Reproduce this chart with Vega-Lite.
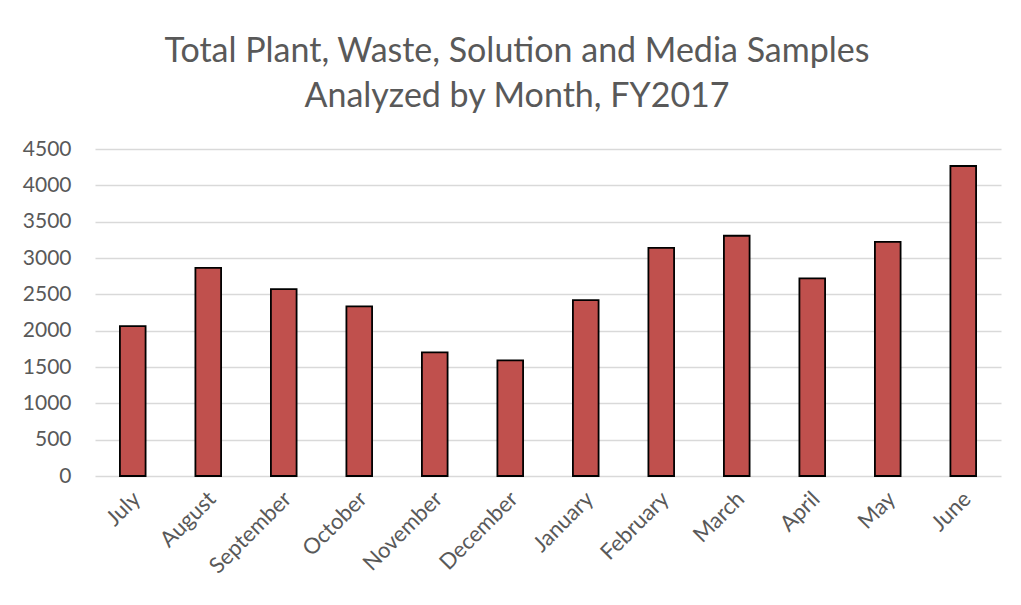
{
  "$schema": "https://vega.github.io/schema/vega-lite/v6.json",
  "width": 906,
  "height": 327,
  "autosize": {"type": "none"},
  "padding": {"left": 95, "top": 149, "right": 20, "bottom": 129},
  "background": "white",
  "title": {
    "text": ["Total Plant, Waste, Solution and Media Samples", "Analyzed by Month, FY2017"],
    "font": "Lato",
    "fontSize": 34,
    "fontWeight": "normal",
    "color": "#595959",
    "anchor": "middle",
    "dx": -31,
    "offset": 24,
    "lineHeight": 45
  },
  "data": {
    "values": [
      {"month": "July", "samples": 2062},
      {"month": "August", "samples": 2865},
      {"month": "September", "samples": 2572},
      {"month": "October", "samples": 2333},
      {"month": "November", "samples": 1700},
      {"month": "December", "samples": 1590},
      {"month": "January", "samples": 2420},
      {"month": "February", "samples": 3140},
      {"month": "March", "samples": 3306},
      {"month": "April", "samples": 2719},
      {"month": "May", "samples": 3223},
      {"month": "June", "samples": 4266}
    ]
  },
  "mark": {"type": "bar", "fill": "#c0504d", "stroke": "#000000", "strokeWidth": 1.8},
  "encoding": {
    "x": {
      "field": "month",
      "type": "nominal",
      "sort": null,
      "scale": {"paddingInner": 0.66, "paddingOuter": 0.33},
      "axis": {
        "title": null,
        "domain": false,
        "ticks": false,
        "labelAngle": -45,
        "labelAlign": "right",
        "labelBaseline": "middle",
        "labelPadding": 19,
        "labelOffset": 4,
        "labelFont": "Lato",
        "labelFontSize": 22,
        "labelColor": "#595959"
      }
    },
    "y": {
      "field": "samples",
      "type": "quantitative",
      "scale": {"domain": [0, 4500], "nice": false},
      "axis": {
        "title": null,
        "values": [0, 500, 1000, 1500, 2000, 2500, 3000, 3500, 4000, 4500],
        "format": "d",
        "domain": false,
        "ticks": false,
        "labelPadding": 24,
        "labelFont": "Lato",
        "labelFontSize": 21,
        "labelColor": "#595959",
        "gridColor": "#d9d9d9",
        "gridWidth": 1.5
      }
    }
  },
  "config": {"view": {"stroke": null}}
}
